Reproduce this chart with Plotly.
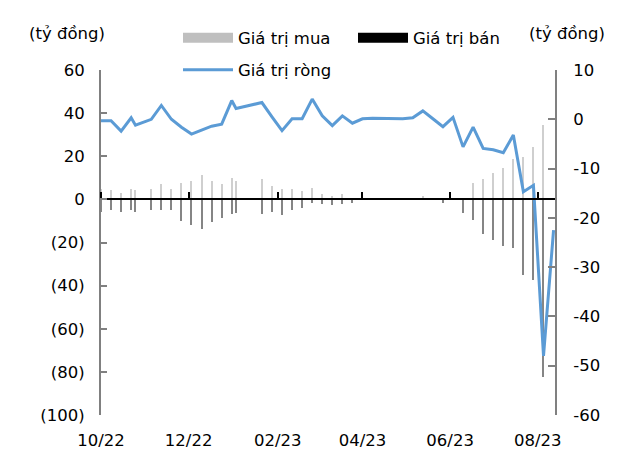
import plotly.graph_objects as go

dates = [
    "2022-10-01", "2022-10-08", "2022-10-15", "2022-10-22", "2022-10-25",
    "2022-11-05", "2022-11-12", "2022-11-19", "2022-11-26", "2022-12-03",
    "2022-12-10", "2022-12-17", "2022-12-24", "2022-12-31", "2023-01-03",
    "2023-01-21", "2023-01-28", "2023-02-04", "2023-02-11", "2023-02-18",
    "2023-02-25", "2023-03-04", "2023-03-11", "2023-03-18", "2023-03-25",
    "2023-04-01", "2023-04-08", "2023-04-15", "2023-04-22", "2023-04-29",
    "2023-05-06", "2023-05-13", "2023-05-20", "2023-05-27", "2023-06-03",
    "2023-06-10", "2023-06-17", "2023-06-24", "2023-07-01", "2023-07-08",
    "2023-07-15", "2023-07-22", "2023-07-29", "2023-08-05", "2023-08-12",
]

gia_tri_mua = [
    5.0, 4.2, 2.9, 4.6, 4.2,
    4.6, 7.0, 5.0, 7.7, 8.4,
    11.1, 8.5, 7.0, 10.1, 8.4,
    9.6, 6.0, 5.0, 4.6, 3.7,
    5.4, 2.3, 1.5, 2.4, 0.8,
    None, None, None, None, None,
    None, 1.5, None, None, None,
    0.5, 7.6, 9.6, 12.2, 14.7,
    18.9, 19.7, 24.3, 34.4, None,
]

gia_tri_ban = [
    -5.9, -4.8, -5.9, -4.8, -5.9,
    -5.1, -4.8, -5.1, -10.1, -11.8,
    -13.6, -10.5, -8.7, -7.0, -6.3,
    -6.7, -5.9, -7.4, -4.8, -4.0,
    -1.7, -2.0, -2.7, -2.2, -1.7,
    None, None, None, None, None,
    None, None, None, -1.8, None,
    -6.1, -9.4, -15.9, -18.7, -21.8,
    -22.6, -35.0, -37.6, -82.4, None,
]

gia_tri_rong = [
    -0.3, -0.3, -2.4, 0.3, -1.2,
    0.0, 2.8, 0.0, -1.6, -3.0,
    -2.2, -1.4, -1.0, 3.8, 2.2,
    3.4, 0.5, -2.3, 0.1, 0.1,
    4.1, 0.7, -1.3, 0.7, -0.8,
    0.1, 0.2, 0.2, 0.1, 0.1,
    0.3, 1.7, 0.1, -1.5, 0.4,
    -5.6, -1.6, -5.9, -6.2, -6.8,
    -3.2, -14.7, -13.4, -48.0, -22.5,
]

x_tick_vals = ["2022-10-01", "2022-12-01", "2023-02-01", "2023-04-01", "2023-06-01", "2023-08-01"]
x_tick_text = ["10/22", "12/22", "02/23", "04/23", "06/23", "08/23"]
left_tick_vals = [-100, -80, -60, -40, -20, 0, 20, 40, 60]
left_tick_text = ["(100)", "(80)", "(60)", "(40)", "(20)", "0", "20", "40", "60"]
right_tick_vals = [-60, -50, -40, -30, -20, -10, 0, 10]
right_tick_text = ["-60", "-50", "-40", "-30", "-20", "-10", "0", "10"]

x_range = ["2022-10-01", "2023-08-13"]
FONT = "DejaVu Sans"
FS = 16.5
BLUE = "#5B9BD5"
AXIS_GRAY = "#808080"
bar_width_ms = 0.75 * 86400000

fig = go.Figure()

fig.add_trace(go.Bar(x=dates, y=gia_tri_mua, xaxis="x", yaxis="y",
                     marker=dict(color="#CFCFCF", line=dict(width=0)),
                     width=bar_width_ms, showlegend=False, name="Giá trị mua"))
fig.add_trace(go.Bar(x=dates, y=gia_tri_ban, xaxis="x", yaxis="y",
                     marker=dict(color="#858585", line=dict(width=0)),
                     width=bar_width_ms, showlegend=False, name="Giá trị bán"))

# legend swatches
fig.add_trace(go.Scatter(x=[None], y=[None], mode="lines", name="Giá trị mua",
                         line=dict(color="#BFBFBF", width=10), legend="legend",
                         xaxis="x", yaxis="y"))
fig.add_trace(go.Scatter(x=[None], y=[None], mode="lines", name="Giá trị bán",
                         line=dict(color="#000000", width=10), legend="legend",
                         xaxis="x", yaxis="y"))

fig.add_trace(go.Scatter(x=dates, y=gia_tri_rong, mode="lines", name="Giá trị ròng",
                         line=dict(color=BLUE, width=3), xaxis="x2", yaxis="y2",
                         legend="legend2"))

fig.update_layout(
    width=627, height=455,
    margin=dict(l=101, r=72, t=70, b=40, autoexpand=False),
    paper_bgcolor="white", plot_bgcolor="white",
    font=dict(family=FONT, size=FS, color="#000000"),
    barmode="overlay", bargap=0,
    xaxis=dict(type="date", range=x_range, anchor="free", position=0.6261, side="top",
               showline=True, linecolor="#000000", linewidth=2,
               ticks="outside", ticklen=6, tickwidth=2, tickcolor="#000000",
               tickmode="array", tickvals=x_tick_vals, showticklabels=False,
               showgrid=False, zeroline=False),
    xaxis2=dict(type="date", range=x_range, overlaying="x", anchor="y", side="bottom",
                showline=False, ticks="", tickmode="array", tickvals=x_tick_vals,
                ticktext=x_tick_text, ticklabelstandoff=13, showgrid=False, zeroline=False),
    yaxis=dict(range=[-100, 60], tickmode="array", tickvals=left_tick_vals,
               ticktext=left_tick_text, showline=True, linecolor=AXIS_GRAY, linewidth=2,
               ticks="inside", ticklen=6, tickwidth=2, tickcolor=AXIS_GRAY,
               ticklabelstandoff=11, showgrid=False, zeroline=False),
    yaxis2=dict(range=[-60, 10], overlaying="y", side="right", anchor="x",
                tickmode="array", tickvals=right_tick_vals, ticktext=right_tick_text,
                showline=True, linecolor=AXIS_GRAY, linewidth=2,
                ticks="inside", ticklen=7, tickwidth=2, tickcolor=AXIS_GRAY,
                ticklabelstandoff=13, showgrid=False, zeroline=False),
    legend=dict(orientation="h", x=(178 - 101) / 454, xanchor="left",
                y=(415 - 38) / 345, yanchor="middle", bgcolor="rgba(0,0,0,0)",
                entrywidth=110, entrywidthmode="pixels", itemwidth=50,
                font=dict(family=FONT, size=FS)),
    legend2=dict(orientation="h", x=(178 - 101) / 454, xanchor="left",
                 y=(415 - 70) / 345, yanchor="middle", bgcolor="rgba(0,0,0,0)",
                 itemwidth=50, font=dict(family=FONT, size=FS)),
    annotations=[
        dict(text="(tỷ đồng)", xref="paper", yref="paper", x=(67 - 101) / 454,
             y=(415 - 33) / 345, xanchor="center", yanchor="middle", showarrow=False,
             font=dict(family=FONT, size=FS)),
        dict(text="(tỷ đồng)", xref="paper", yref="paper", x=(567 - 101) / 454,
             y=(415 - 33) / 345, xanchor="center", yanchor="middle", showarrow=False,
             font=dict(family=FONT, size=FS)),
    ],
)

fig.write_html("out.html", config={"displayModeBar": False},
               post_script="document.body.style.margin='0';")
